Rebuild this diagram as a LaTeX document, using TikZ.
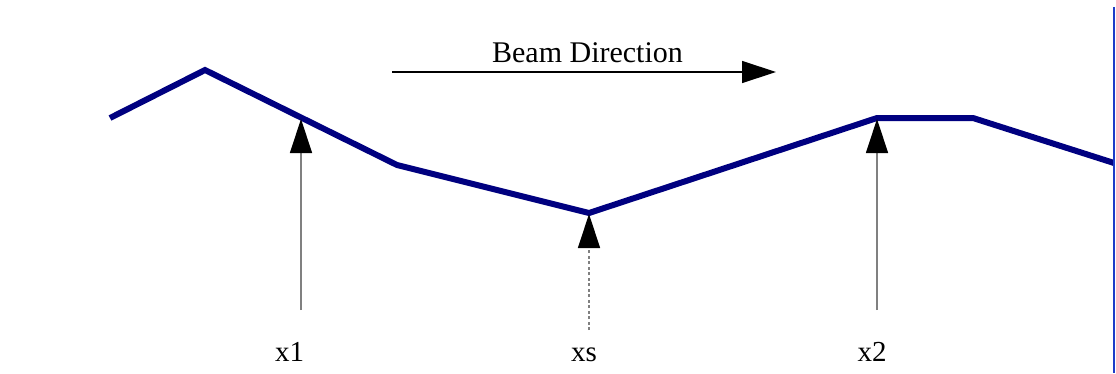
\documentclass[tikz,border=0pt]{standalone}
\usepackage{fontspec}
\setmainfont{Liberation Serif}
\usetikzlibrary{arrows.meta}
\definecolor{beamnavy}{RGB}{0,0,128}
\definecolor{edgeblue}{RGB}{30,60,200}
\definecolor{pgray}{RGB}{128,128,128}
\tikzset{
  beam/.style={line width=6pt, color=beamnavy, line join=miter},
  probe/.style={line width=1.3pt, color=pgray, -{Triangle[length=34pt,width=22pt,color=black]}},
  probedot/.style={probe, dash pattern=on 3pt off 2.5pt},
  lbl/.style={anchor=base, inner sep=0pt, font=\fontsize{29}{33}\selectfont},
  dirlbl/.style={anchor=base, inner sep=0pt, font=\fontsize{30}{34}\selectfont},
  dirarrow/.style={line width=1.3pt, color=black, -{Triangle[length=34pt,width=22pt]}}
}
\begin{document}
\begin{tikzpicture}[x=1pt,y=-1pt]
\useasboundingbox (0,0) rectangle (1116,373);
\fill[white] (0,0) rectangle (1116,373);
% beam profile points
\coordinate (p0) at (110,118);
\coordinate (p1) at (205,70);
\coordinate (p2) at (397,165);
\coordinate (p3) at (589,213);
\coordinate (p4) at (877,118);
\coordinate (p5) at (973,118);
\coordinate (p6) at (1114,163);
\draw[beam] (p0) -- (p1) -- (p2) -- (p3) -- (p4) -- (p5) -- (p6);
% right edge line
\coordinate (e0) at (1114,7);
\coordinate (e1) at (1114,373);
\draw[edgeblue, line width=2pt] (e0) -- (e1);
% probes
\coordinate (b1) at (301,310);
\coordinate (t1) at (301,119);
\coordinate (bs) at (589,330);
\coordinate (ts) at (589,214);
\coordinate (b2) at (877,310);
\coordinate (t2) at (877,119);
\draw[probe] (b1) -- (t1);
\draw[probedot] (bs) -- (ts);
\draw[probe] (b2) -- (t2);
% labels
\node[lbl] (l1) at (289.5,361.5) {x1};
\node[lbl] (ls) at (584,361.5) {xs};
\node[lbl] (l2) at (872,361.5) {x2};
% beam direction
\node[dirlbl] (bd) at (587.5,62.5) {Beam Direction};
\coordinate (d0) at (392,72);
\coordinate (d1) at (776,72);
\draw[dirarrow] (d0) -- (d1);
\end{tikzpicture}
\end{document}
